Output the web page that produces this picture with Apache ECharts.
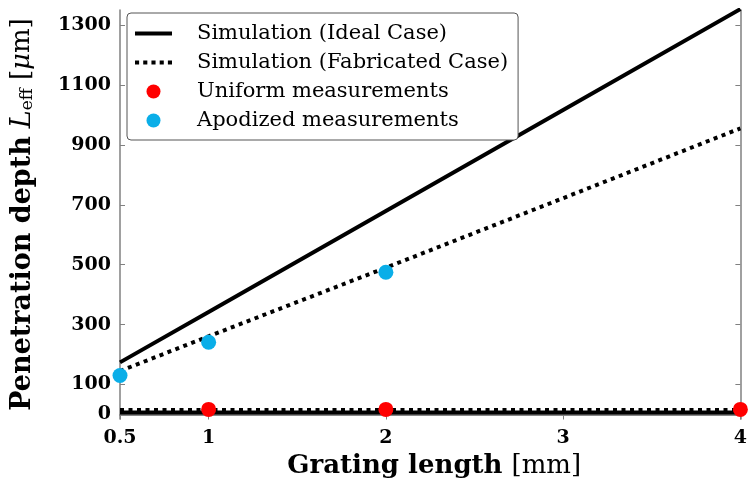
<!DOCTYPE html>
<html>
<head>
<meta charset="utf-8">
<script src="https://cdn.jsdelivr.net/npm/echarts@6/dist/echarts.min.js"></script>
<style>
  html, body { margin: 0; padding: 0; background: #fff; }
  #chart { width: 750px; height: 490px; }
</style>
</head>
<body>
<div id="chart"></div>
<script>
// grating lengths (mm) and tick labels
const xTicks = [0.5, 1, 2, 3, 4]
const yTicks = [0, 100, 300, 500, 700, 900, 1100, 1300]
const lengths = [0.5, 1, 2, 3, 4]

// simulations, apodized gratings (um)
const idealApod = [174, 342, 679, 1016, 1353]
const fabApod = [145, 261, 490, 722, 955]
// simulations, uniform gratings (um)
const idealUniform = [7, 7, 7, 7, 7]
const fabUniform = [15, 15, 15, 15, 15]

// measurements
const uniformX = [1, 2, 4]
const uniformMeas = [17, 17, 17]
const apodX = [0.5, 1, 2]
const apodMeas = [130, 241, 475]

const IDEAL = 'Simulation (Ideal Case)'
const FAB = 'Simulation (Fabricated Case)'
const UNI = 'Uniform measurements'
const APO = 'Apodized measurements'

const serif = '"DejaVu Serif", "Liberation Serif", serif'
const axisGray = '#808080'

// legend icons: a solid bar and a row of square dots
const solidIcon = 'path://M0 0H37V4H0Z'
const dotIcon = 'path://M0 0H4V4H0ZM8 0H12V4H8ZM16 0H20V4H16ZM24 0H28V4H24ZM32 0H36V4H32Z'

const pairs = (xs, ys) => xs.map((x, i) => [x, ys[i]])

const chart = echarts.init(document.getElementById('chart'))

const frameAxis = {
  axisLine: { show: true, lineStyle: { color: axisGray, width: 1.5 } },
  axisTick: { show: true, inside: true, length: 5, lineStyle: { color: axisGray, width: 1 } },
  splitLine: { show: false },
}

const tickLabel = {
  fontFamily: serif,
  fontWeight: 'bold',
  fontSize: 19,
  color: '#000',
  formatter: v => String(v),
}

chart.setOption({
  animation: false,
  backgroundColor: '#fff',
  textStyle: { fontFamily: serif, color: '#000' },
  grid: { left: 120, right: 2, top: 10, bottom: 71 },
  legend: {
    orient: 'vertical',
    left: 127,
    top: 13,
    padding: [9, 10, 8, 8],
    itemGap: 6,
    itemWidth: 37,
    itemHeight: 14,
    backgroundColor: '#fff',
    borderColor: '#555',
    borderWidth: 1,
    borderRadius: 4,
    textStyle: { fontFamily: serif, fontSize: 21, lineHeight: 23, color: '#000', padding: [0, 0, 0, 20] },
    data: [
      { name: IDEAL, icon: solidIcon },
      { name: FAB, icon: dotIcon },
      { name: UNI, icon: 'circle' },
      { name: APO, icon: 'circle' },
    ],
  },
  xAxis: [
    {
      ...frameAxis,
      type: 'value',
      min: 0.5,
      max: 4,
      axisTick: { ...frameAxis.axisTick, customValues: xTicks },
      axisLabel: { ...tickLabel, customValues: xTicks, margin: 10 },
      name: '{b|Grating length}{g| }{r|[mm]}',
      nameLocation: 'middle',
      nameGap: 27,
      nameTextStyle: {
        padding: [0, 0, 0, 8],
        rich: {
          b: { fontFamily: serif, fontWeight: 'bold', fontSize: 26, color: '#000' },
          g: { fontFamily: serif, fontSize: 26, width: 9 },
          r: { fontFamily: serif, fontSize: 26, color: '#000' },
        },
      },
    },
    {
      ...frameAxis,
      type: 'value',
      position: 'top',
      min: 0.5,
      max: 4,
      axisTick: { ...frameAxis.axisTick, customValues: xTicks },
      axisLabel: { show: false },
    },
  ],
  yAxis: [
    {
      ...frameAxis,
      type: 'value',
      min: -15,
      max: 1350,
      axisTick: { ...frameAxis.axisTick, customValues: yTicks },
      axisLabel: { ...tickLabel, customValues: yTicks, margin: 9 },
      name: '{b|Penetration depth}{g| }{i|L}{s|eff}{g| }{r|[}{m|μ}{r|m]}',
      nameLocation: 'middle',
      nameGap: 84,
      nameTextStyle: {
        rich: {
          b: { fontFamily: serif, fontWeight: 'bold', fontSize: 27, color: '#000' },
          g: { fontFamily: serif, fontSize: 25, width: 8 },
          i: { fontFamily: serif, fontStyle: 'italic', fontSize: 27, color: '#000' },
          m: { fontFamily: serif, fontStyle: 'italic', fontSize: 26, color: '#000' },
          s: { fontFamily: serif, fontSize: 17, color: '#000', verticalAlign: 'bottom', padding: [10, 0, 0, 0] },
          r: { fontFamily: serif, fontSize: 26, color: '#000' },
        },
      },
    },
    {
      ...frameAxis,
      type: 'value',
      position: 'right',
      min: -15,
      max: 1350,
      axisTick: { ...frameAxis.axisTick, customValues: yTicks },
      axisLabel: { show: false },
    },
  ],
  series: [
    {
      name: IDEAL,
      type: 'line',
      data: pairs(lengths, idealApod),
      symbol: 'none',
      color: '#000',
      lineStyle: { color: '#000', width: 4 },
      z: 2,
    },
    {
      name: IDEAL,
      type: 'line',
      data: pairs(lengths, idealUniform),
      symbol: 'none',
      color: '#000',
      lineStyle: { color: '#000', width: 4 },
      z: 2,
    },
    {
      name: FAB,
      type: 'line',
      data: pairs(lengths, fabApod),
      symbol: 'none',
      color: '#000',
      lineStyle: { color: '#000', width: 4, type: [4, 4.5] },
      z: 2,
    },
    {
      name: FAB,
      type: 'line',
      data: pairs(lengths, fabUniform),
      symbol: 'none',
      color: '#000',
      lineStyle: { color: '#000', width: 4, type: [4, 4.5] },
      z: 2,
    },
    {
      name: UNI,
      type: 'scatter',
      data: pairs(uniformX, uniformMeas),
      symbolSize: 15,
      clip: false,
      itemStyle: { color: '#ff0000', opacity: 1 },
      z: 3,
    },
    {
      name: APO,
      type: 'scatter',
      data: pairs(apodX, apodMeas),
      symbolSize: 15,
      clip: false,
      itemStyle: { color: '#0aaee8', opacity: 1 },
      z: 3,
    },
  ],
})
</script>
</body>
</html>
